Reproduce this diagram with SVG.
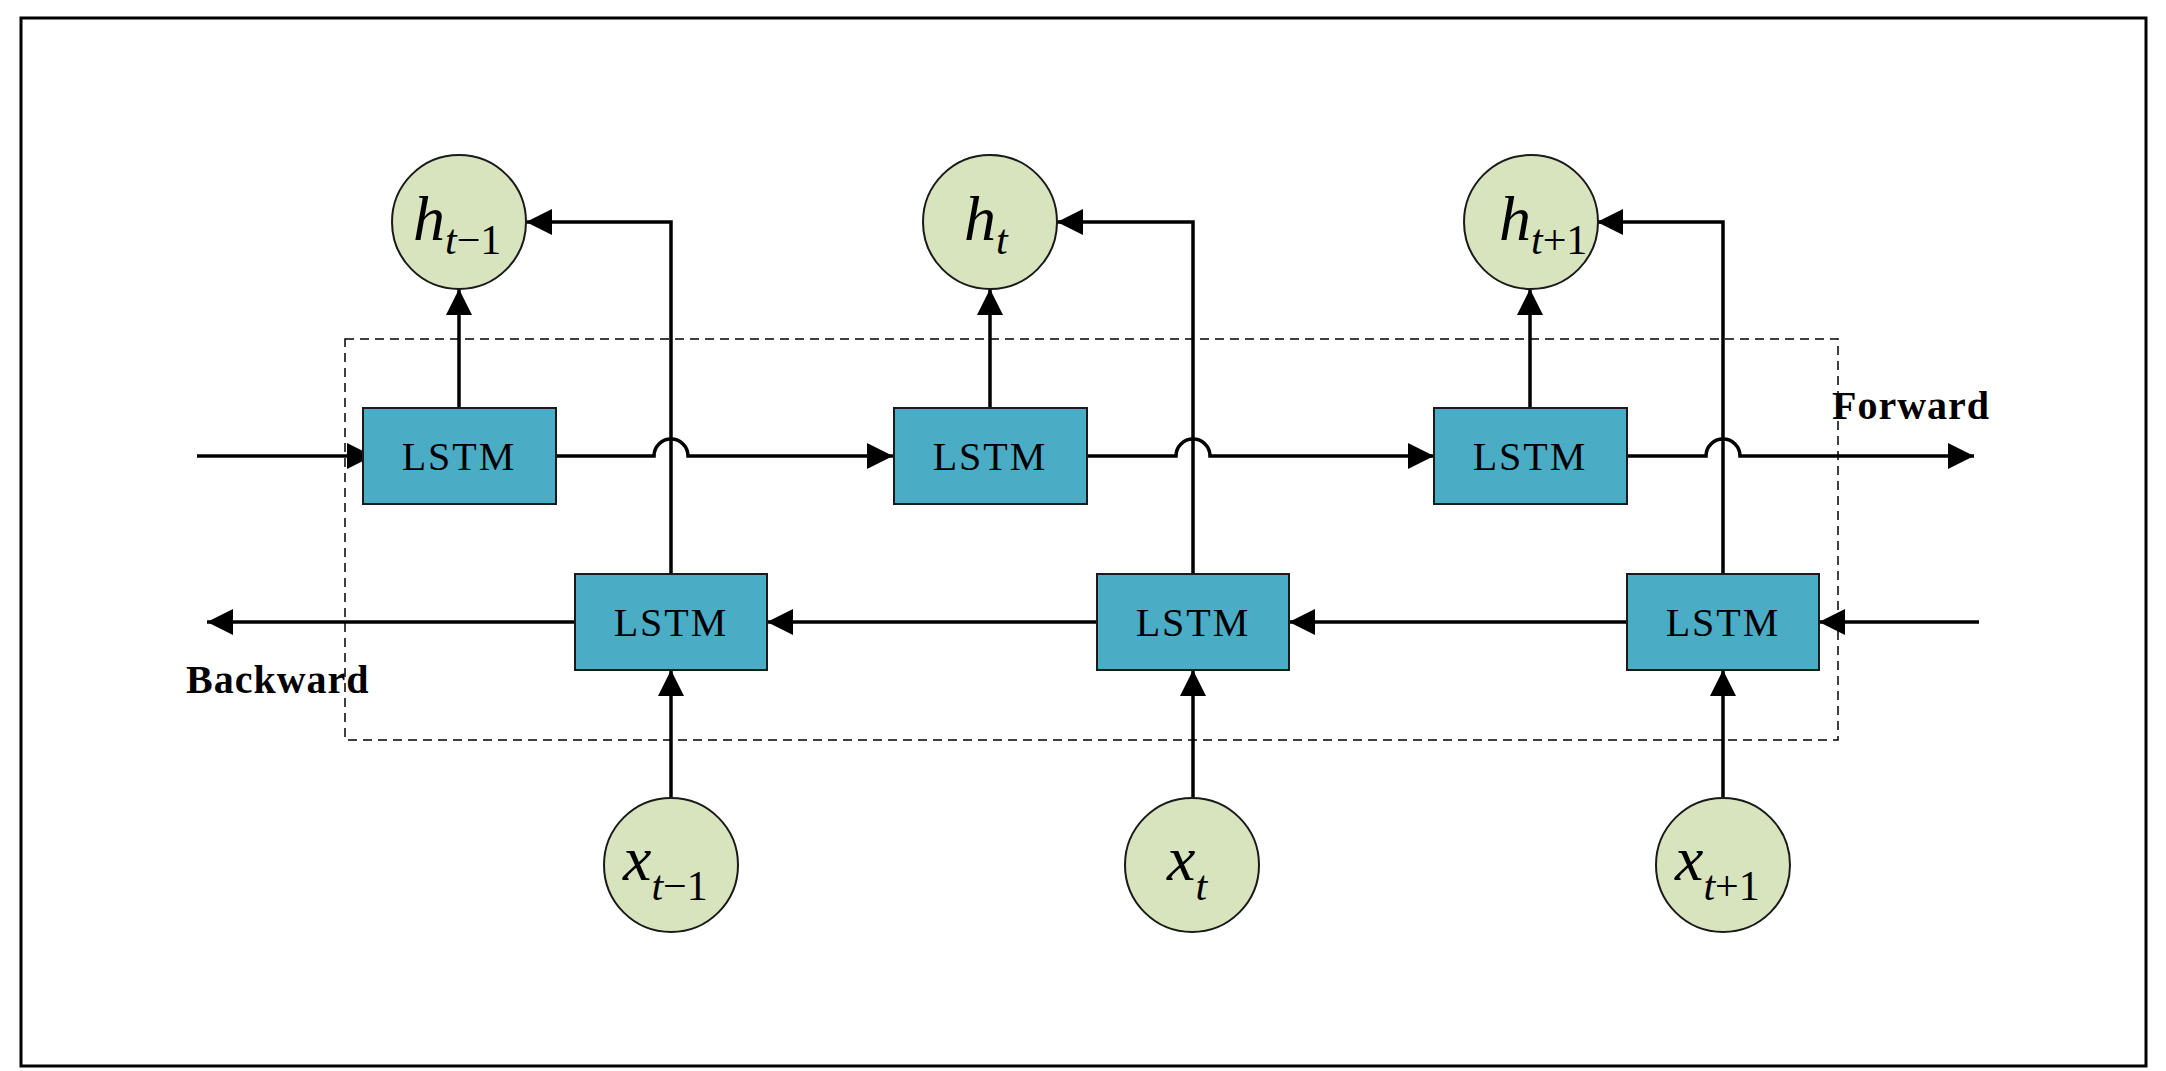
<svg xmlns="http://www.w3.org/2000/svg" width="2166" height="1071" viewBox="0 0 2166 1071">
<style>
.box{fill:#4BACC6;stroke:#1a1a1a;stroke-width:2}
.cir{fill:#D7E4BD;stroke:#1a1a1a;stroke-width:2}
.ln{fill:none;stroke:#000;stroke-width:3.5}
.lt{font-family:"Liberation Serif",serif;font-size:40px;text-anchor:middle;letter-spacing:2px}
.lab{font-family:"Liberation Serif",serif;font-size:40px;font-weight:bold}
.v{font-family:"Liberation Serif",serif;font-size:64px;font-style:italic}
.s{font-size:42px}
</style>
<defs>
<marker id="a" markerUnits="userSpaceOnUse" markerWidth="28" markerHeight="28" refX="26" refY="13" orient="auto">
<path d="M0,0 L26,13 L0,26 z" fill="#000"/>
</marker>
</defs>
<rect x="21" y="18" width="2125" height="1048" fill="#fff" stroke="#000" stroke-width="3"/>
<rect x="345" y="339" width="1493" height="401" fill="none" stroke="#000" stroke-width="1.5" stroke-dasharray="9,6"/>
<g id="connectors" class="ln">
<path d="M197,456 H373" marker-end="url(#a)"/>
<path d="M556,456 H654 A17,17 0 0 1 688,456 H893" marker-end="url(#a)"/>
<path d="M1087,456 H1176 A17,17 0 0 1 1210,456 H1434" marker-end="url(#a)"/>
<path d="M1626,456 H1706 A17,17 0 0 1 1740,456 H1974" marker-end="url(#a)"/>
<path d="M1979,622 H1819" marker-end="url(#a)"/>
<path d="M1627,622 H1289" marker-end="url(#a)"/>
<path d="M1097,622 H767" marker-end="url(#a)"/>
<path d="M575,622 H207" marker-end="url(#a)"/>
<path d="M459,407 V289" marker-end="url(#a)"/>
<path d="M990,407 V289" marker-end="url(#a)"/>
<path d="M1530,407 V289" marker-end="url(#a)"/>
<path d="M671,573 V222 H526" marker-end="url(#a)"/>
<path d="M1193,573 V222 H1057" marker-end="url(#a)"/>
<path d="M1723,573 V222 H1597" marker-end="url(#a)"/>
<path d="M671,798 V670" marker-end="url(#a)"/>
<path d="M1193,798 V670" marker-end="url(#a)"/>
<path d="M1723,798 V670" marker-end="url(#a)"/>
</g>
<g id="f1"><rect class="box" x="363" y="408" width="193" height="96"/><text class="lt" x="459" y="470">LSTM</text></g>
<g id="f2"><rect class="box" x="894" y="408" width="193" height="96"/><text class="lt" x="990" y="470">LSTM</text></g>
<g id="f3"><rect class="box" x="1434" y="408" width="193" height="96"/><text class="lt" x="1530" y="470">LSTM</text></g>
<g id="b1"><rect class="box" x="575" y="574" width="192" height="96"/><text class="lt" x="671" y="636">LSTM</text></g>
<g id="b2"><rect class="box" x="1097" y="574" width="192" height="96"/><text class="lt" x="1193" y="636">LSTM</text></g>
<g id="b3"><rect class="box" x="1627" y="574" width="192" height="96"/><text class="lt" x="1723" y="636">LSTM</text></g>
<g id="h1"><circle class="cir" cx="459" cy="222" r="67"/><text class="v" x="413" y="240">h<tspan class="s" dy="14">t</tspan><tspan class="s" font-style="normal">−1</tspan></text></g>
<g id="h2"><circle class="cir" cx="990" cy="222" r="67"/><text class="v" x="964" y="240">h<tspan class="s" dy="14">t</tspan></text></g>
<g id="h3"><circle class="cir" cx="1531" cy="222" r="67"/><text class="v" x="482" y="240" transform="translate(1017,0)">h<tspan class="s" dy="14">t</tspan><tspan class="s" font-style="normal">+1</tspan></text></g>
<g id="x1"><circle class="cir" cx="671" cy="865" r="67"/><text class="v" x="623" y="880">x<tspan class="s" dy="20">t</tspan><tspan class="s" font-style="normal">−1</tspan></text></g>
<g id="x2"><circle class="cir" cx="1192" cy="865" r="67"/><text class="v" x="1167" y="880">x<tspan class="s" dy="20">t</tspan></text></g>
<g id="x3"><circle class="cir" cx="1723" cy="865" r="67"/><text class="v" x="1675" y="880">x<tspan class="s" dy="20">t</tspan><tspan class="s" font-style="normal">+1</tspan></text></g>
<text class="lab" x="1832" y="419" letter-spacing="1">Forward</text>
<text class="lab" x="186" y="693" letter-spacing="1">Backward</text>
</svg>
